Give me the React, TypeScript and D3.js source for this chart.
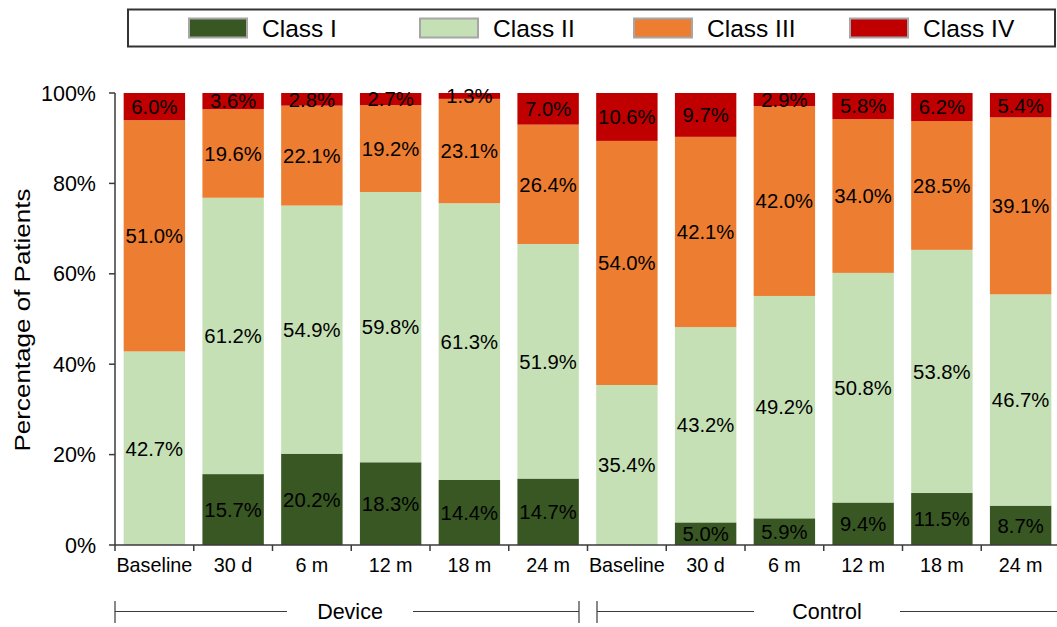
import React from "react";
import * as d3 from "d3";

const categories = ["Baseline", "30 d", "6 m", "12 m", "18 m", "24 m", "Baseline", "30 d", "6 m", "12 m", "18 m", "24 m"];
const groups = ["Device", "Control"];
const seriesNames = ["Class I", "Class II", "Class III", "Class IV"];
const classI = [0, 15.7, 20.2, 18.3, 14.4, 14.7, 0, 5.0, 5.9, 9.4, 11.5, 8.7];
const classII = [42.7, 61.2, 54.9, 59.8, 61.3, 51.9, 35.4, 43.2, 49.2, 50.8, 53.8, 46.7];
const classIII = [51.0, 19.6, 22.1, 19.2, 23.1, 26.4, 54.0, 42.1, 42.0, 34.0, 28.5, 39.1];
const classIV = [6.0, 3.6, 2.8, 2.7, 1.3, 7.0, 10.6, 9.7, 2.9, 5.8, 6.2, 5.4];
const yTicks = [0, 0.2, 0.4, 0.6, 0.8, 1.0];

const colors = ["#385723", "#C5E0B4", "#ED7D31", "#C00000"];
const FONT = "'Liberation Sans', Arial, sans-serif";

export default function App() {
  const W = 1057, H = 627;
  const x0 = 115, x1 = 1060, yTop = 93, yBot = 545;
  const values = [classI, classII, classIII, classIV];
  const table = categories.map((c, i) => {
    const row: any = { idx: i };
    seriesNames.forEach((s, k) => (row[s] = values[k][i]));
    return row;
  });
  const stack = d3.stack<any>().keys(seriesNames).offset(d3.stackOffsetExpand);
  const layers = stack(table);
  const x = d3.scaleBand<number>().domain(d3.range(categories.length)).range([x0, x1]).paddingInner(0).paddingOuter(0);
  const y = d3.scaleLinear().domain([0, 1]).range([yBot, yTop]);
  const bw = x.bandwidth() * 0.78;
  const axisColor = "#3a3a3a";
  const fmt = d3.format(".0%");

  const legendX = [189, 420, 634, 850];

  const groupSpans = [
    { name: groups[0], a: 115, b: 579 },
    { name: groups[1], a: 597, b: 1057 },
  ];

  return (
    <svg width={W} height={H} style={{ position: "absolute", left: 0, top: 0, background: "#fff" }} fontFamily={FONT}>
      {/* Legend */}
      <rect x={128} y={9.5} width={927} height={37} fill="#fff" stroke="#333" strokeWidth={2} />
      {seriesNames.map((s, k) => (
        <g key={s}>
          <rect x={legendX[k]} y={18.5} width={58} height={19} fill={colors[k]} stroke="#a6a6a6" strokeWidth={2} />
          <text x={legendX[k] + 73} y={28} dy="0.35em" fontSize={24.5} fill="#000">{s}</text>
        </g>
      ))}

      {/* Bars */}
      {layers.map((layer, k) => (
        <g key={layer.key}>
          {layer.map((d, i) => (
            <rect key={i} x={(x(i) as number) + (x.bandwidth() - bw) / 2} y={y(d[1])} width={bw} height={Math.max(0, y(d[0]) - y(d[1]))} fill={colors[k]} />
          ))}
        </g>
      ))}
      {/* Data labels */}
      {layers.map((layer, k) => (
        <g key={"l" + layer.key}>
          {layer.map((d, i) =>
            values[k][i] > 0 ? (
              <text key={i} x={(x(i) as number) + x.bandwidth() / 2} y={(y(d[0]) + y(d[1])) / 2} dy="0.36em" textAnchor="middle" fontSize={20.3} fill="#000">
                {values[k][i].toFixed(1) + "%"}
              </text>
            ) : null
          )}
        </g>
      ))}

      {/* Y axis */}
      <line x1={x0} x2={x0} y1={yTop} y2={yBot} stroke={axisColor} strokeWidth={1.5} />
      {yTicks.map((t) => (
        <g key={t}>
          <line x1={x0 - 6} x2={x0} y1={y(t)} y2={y(t)} stroke={axisColor} strokeWidth={1.5} />
          <text x={96} y={y(t)} dy="0.35em" textAnchor="end" fontSize={21.5} fill="#000">{fmt(t)}</text>
        </g>
      ))}
      <text transform={`translate(22,320) rotate(-90)`} textAnchor="middle" dy="0.35em" fontSize={22} textLength={263} lengthAdjust="spacingAndGlyphs" fill="#000">
        Percentage of Patients
      </text>

      {/* X axis */}
      <line x1={x0} x2={x1} y1={yBot} y2={yBot} stroke={axisColor} strokeWidth={1.5} />
      {d3.range(categories.length + 1).map((i) => {
        const xx = i < categories.length ? (x(i) as number) : x1;
        return <line key={i} x1={xx} x2={xx} y1={yBot} y2={yBot + 6} stroke={axisColor} strokeWidth={1.5} />;
      })}
      {categories.map((c, i) => (
        <text key={i} x={(x(i) as number) + x.bandwidth() / 2} y={572} textAnchor="middle" fontSize={19.8} fill="#000">{c}</text>
      ))}

      {/* Group brackets */}
      {groupSpans.map((g, gi) => {
        const cx = (g.a + g.b) / 2 + (gi === 0 ? 3 : 0);
        const half = g.name.length * 10 + 3;
        return (
          <g key={g.name}>
            <line x1={g.a} x2={g.a} y1={601} y2={623} stroke={axisColor} strokeWidth={1.2} />
            {gi === 0 && <line x1={g.b} x2={g.b} y1={601} y2={623} stroke={axisColor} strokeWidth={1.2} />}
            <line x1={g.a} x2={cx - half} y1={611.5} y2={611.5} stroke={axisColor} strokeWidth={1.2} />
            <line x1={cx + half} x2={g.b} y1={611.5} y2={611.5} stroke={axisColor} strokeWidth={1.2} />
            <text x={cx} y={619} textAnchor="middle" fontSize={21.5} fill="#000">{g.name}</text>
          </g>
        );
      })}
    </svg>
  );
}
